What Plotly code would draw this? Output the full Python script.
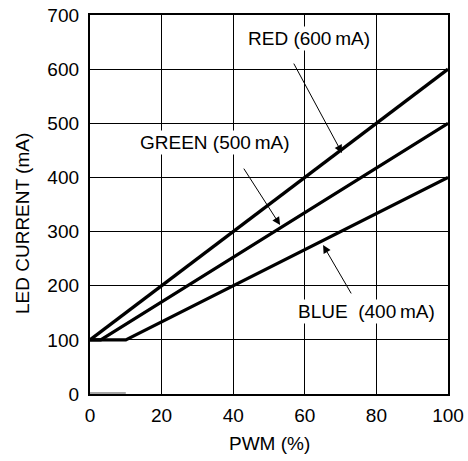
import plotly.graph_objects as go

red_x = [0, 100]
red_y = [100, 600]
green_x = [0, 3, 100]
green_y = [100, 100, 500]
blue_x = [0, 10, 100]
blue_y = [100, 100, 400]
stub_x = [0, 10]
stub_y = [2, 2]

x_ticks = [0, 20, 40, 60, 80, 100]
y_ticks = [0, 100, 200, 300, 400, 500, 600, 700]

FONT = "Liberation Sans, Arial, sans-serif"
FS = 19

fig = go.Figure()
fig.add_trace(go.Scatter(x=stub_x, y=stub_y, mode="lines",
                         line=dict(color="#888888", width=1.5), showlegend=False, cliponaxis=False))
for xs, ys in [(red_x, red_y), (green_x, green_y), (blue_x, blue_y)]:
    fig.add_trace(go.Scatter(x=xs, y=ys, mode="lines",
                             line=dict(color="black", width=3.2), showlegend=False, cliponaxis=False))

labels = [
    ("RED (600\u2009mA)", 61.3, 657),
    ("GREEN (500\u2009mA)", 34.9, 464),
    ("BLUE  (400\u2009mA)", 77.1, 153),
]
for text, x, y in labels:
    fig.add_annotation(x=x, y=y, text=text, showarrow=False,
                       font=dict(family=FONT, size=FS, color="black"),
                       bgcolor="white", borderpad=1)

arrows = [
    (70.4, 445, 56.7, 613),
    (53.1, 312, 42.7, 419),
    (65.1, 275, 73.2, 183),
]
for hx, hy, tx, ty in arrows:
    fig.add_annotation(x=hx, y=hy, ax=tx, ay=ty, axref="x", ayref="y",
                       text="", showarrow=True, arrowhead=2, arrowsize=1.6,
                       arrowwidth=1, arrowcolor="black", standoff=0)

# axis titles
fig.add_annotation(xref="paper", yref="paper", x=0.5, y=(394 - 443) / 379,
                   text="PWM (%)", showarrow=False, xanchor="center", yanchor="middle",
                   font=dict(family=FONT, size=FS, color="black"))
fig.add_annotation(xref="paper", yref="paper", x=(22 - 90) / 358, y=(394 - 224) / 379,
                   text="LED CURRENT (mA)", showarrow=False, textangle=-90,
                   xanchor="center", yanchor="middle",
                   font=dict(family=FONT, size=FS, color="black"))

fig.update_xaxes(range=[0, 100], tickvals=x_ticks, showgrid=True, gridcolor="black",
                 gridwidth=1, showline=True, linecolor="black", linewidth=2.3, mirror=True,
                 zeroline=False, ticks="", automargin=False, ticklabelstandoff=3,
                 tickfont=dict(family=FONT, size=FS, color="black"))
fig.update_yaxes(range=[0, 700], tickvals=y_ticks, showgrid=True, gridcolor="black",
                 gridwidth=1, showline=True, linecolor="black", linewidth=2.3, mirror=True,
                 zeroline=False, ticks="", automargin=False, ticklabelstandoff=5,
                 tickfont=dict(family=FONT, size=FS, color="black"))

fig.update_layout(width=468, height=461, margin=dict(l=90, r=20, t=15, b=67),
                  plot_bgcolor="white", paper_bgcolor="white",
                  font=dict(family=FONT, size=FS, color="black"))

fig.write_html("out.html", config={"displayModeBar": False},
               post_script="document.body.style.margin='0';document.body.style.overflow='hidden';")
